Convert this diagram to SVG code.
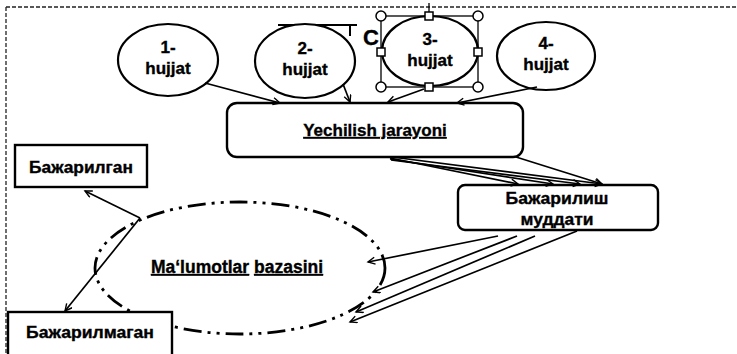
<svg xmlns="http://www.w3.org/2000/svg" width="737" height="354" viewBox="0 0 737 354">
<defs>
<marker id="arr" markerUnits="userSpaceOnUse" markerWidth="10" markerHeight="10" refX="8" refY="4" orient="auto">
<path d="M1,0.5 L8,4 L1,7.5" fill="none" stroke="#000" stroke-width="1.4"/>
</marker>
<style>
.t{font-family:"Liberation Sans","DejaVu Sans",sans-serif;font-weight:bold;fill:#000;stroke:#000;stroke-width:0.35;text-anchor:middle}
.ell{fill:#fff;stroke:#000;stroke-width:2.2}
.box{fill:#fff;stroke:#000;stroke-width:2.4}
.c{fill:none;stroke:#000;stroke-width:1.7;marker-end:url(#arr)}
.h{fill:#fff;stroke:#000;stroke-width:1.5}
</style>
</defs>
<rect width="737" height="354" fill="#fff"/>
<g id="border" fill="none" stroke="#222" stroke-width="1.3" stroke-dasharray="4 2">
<path d="M6,7 L737,7"/>
<path d="M6,7 L6,354"/>
</g>
<g id="artifact" fill="none" stroke="#000" stroke-width="2">
<path d="M278,25 L357,25 M350,25 L350,36"/>
<text class="t" x="371" y="45" font-size="22" font-weight="normal" stroke="none">C</text>
</g>
<g id="n1"><ellipse class="ell" cx="168" cy="60" rx="50" ry="36"/><text class="t" font-size="17" x="168" y="53">1-</text><text class="t" font-size="17" x="168" y="74">hujjat</text></g>
<g id="n2"><ellipse class="ell" cx="305" cy="61" rx="50" ry="37"/><text class="t" font-size="17" x="305" y="54">2-</text><text class="t" font-size="17" x="305" y="75">hujjat</text></g>
<g id="n3"><ellipse class="ell" cx="430" cy="51" rx="48" ry="35"/><text class="t" font-size="17" x="430" y="45">3-</text><text class="t" font-size="17" x="430" y="66">hujjat</text>
<g id="handles"><rect x="381" y="16" width="97" height="71" fill="none" stroke="#000" stroke-width="1.3"/>
<path d="M429,3 L429,12" stroke="#000" stroke-width="1.3"/>
<circle class="h" cx="381" cy="16" r="5"/><circle class="h" cx="478" cy="16" r="5"/><circle class="h" cx="381" cy="87" r="5"/><circle class="h" cx="478" cy="87" r="5"/>
<rect class="h" x="425" y="12" width="8" height="8"/><rect class="h" x="425" y="83" width="8" height="8"/><rect class="h" x="377" y="48" width="8" height="8"/><rect class="h" x="474" y="48" width="8" height="8"/></g></g>
<g id="n4"><ellipse class="ell" cx="546" cy="56" rx="49" ry="34"/><text class="t" font-size="17" x="546" y="49">4-</text><text class="t" font-size="17" x="546" y="70">hujjat</text></g>
<g id="yechilish"><rect class="box" x="227" y="103" width="296" height="54" rx="10" stroke-width="2"/><text class="t" font-size="17" x="375" y="136" text-decoration="underline">Yechilish jarayoni</text></g>
<g id="muddati"><rect class="box" x="458" y="185" width="200" height="45" rx="7" stroke-width="2.6"/><text class="t" font-size="16" x="557" y="204" textLength="103" lengthAdjust="spacingAndGlyphs">Бажарилиш</text><text class="t" font-size="16" x="557" y="225" textLength="73" lengthAdjust="spacingAndGlyphs">муддати</text></g>
<g id="baza"><ellipse cx="240" cy="268" rx="145" ry="66" fill="none" stroke="#000" stroke-width="2.8" stroke-dasharray="18 6 3 6 3 6"/><text class="t" font-size="17.5" x="237" y="273"><tspan text-decoration="underline">Ma‘lumotlar</tspan> <tspan text-decoration="underline">bazasini</tspan></text></g>
<g id="bajarilgan"><rect class="box" x="15" y="145" width="132" height="42" stroke-width="2.6"/><text class="t" font-size="16" x="81" y="173" textLength="104" lengthAdjust="spacingAndGlyphs">Бажарилган</text></g>
<g id="bajarilmagan"><rect class="box" x="8" y="312" width="164" height="50" stroke-width="2.6"/><text class="t" font-size="16" x="90" y="338" textLength="128" lengthAdjust="spacingAndGlyphs">Бажарилмаган</text></g>
<g id="connectors">
<path class="c" d="M205,83 L280,103"/>
<path class="c" d="M343,84 L350,102"/>
<path class="c" d="M424,89 L388,102"/>
<path class="c" d="M537,87 L457,103"/>
<path class="c" d="M390,158 L518,184"/>
<path class="c" d="M390,159 L553,184"/>
<path class="c" d="M391,160 L580,184"/>
<path class="c" d="M392,157 L602,184"/>
<path class="c" d="M516,157 L602,184"/>
<path class="c" d="M498,236 L368,262"/>
<path class="c" d="M517,236 L373,292"/>
<path class="c" d="M535,236 L356,312"/>
<path class="c" d="M577,231 L350,322"/>
<path class="c" d="M140,218 L85,191"/>
<path class="c" d="M140,218 L65,311"/>
</g>
</svg>
